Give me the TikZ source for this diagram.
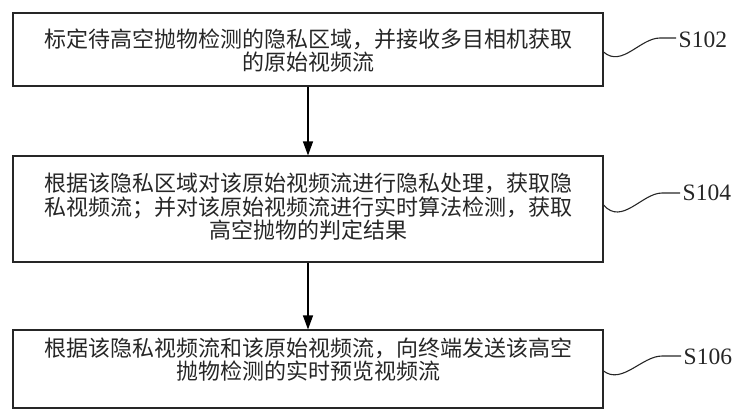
\documentclass[tikz,border=0pt]{standalone}
\usepackage{fontspec}
\setmainfont{Liberation Serif}
\newfontfamily\cjk{Noto Sans CJK SC}
\usetikzlibrary{arrows.meta,calc}
\begin{document}
\begin{tikzpicture}[x=1pt,y=-1pt,
  box/.style={draw=black!85, line width=1.1pt, minimum width=590pt, inner sep=0pt},
  txt/.style={font=\cjk\fontsize{22}{23.5}\selectfont, align=center, inner sep=0pt, text=black!85},
  arr/.style={draw=black, -{Triangle[width=10pt,length=14pt]}, line width=1.1pt},
  lead/.style={draw=black!85, line width=1.1pt},
  lab/.style={font=\fontsize{23.5}{26}\selectfont, anchor=west, inner sep=2.5pt, text=black!85}]
\useasboundingbox (0,0) rectangle (746,416);

\node[box, minimum height=73pt] (b1) at (308,49.5) {};
\node[box, minimum height=106pt] (b2) at (308,209) {};
\node[box, minimum height=78pt] (b3) at (308,369) {};

\node[txt] (t1) at (308,50.5) {标定待高空抛物检测的隐私区域，并接收多目相机获取\\的原始视频流};
\node[txt] (t2) at (308,207) {根据该隐私区域对该原始视频流进行隐私处理，获取隐\\私视频流；并对该原始视频流进行实时算法检测，获取\\高空抛物的判定结果};
\node[txt] (t3) at (308,359.5) {根据该隐私视频流和该原始视频流，向终端发送该高空\\抛物检测的实时预览视频流};

\draw[arr] (b1.south) -- (b2.north);
\draw[arr] (b2.south) -- (b3.north);

\node[lab] (s1) at (676,40) {S102};
\node[lab] (s2) at (680,193) {S104};
\node[lab] (s3) at (681,357) {S106};

\draw[lead] ([yshift=-2.5pt]b1.east) .. controls (622,68) and (640,38) .. (660,38) -- (s1.west |- 0,38);
\draw[lead] ([yshift=4pt]b2.east) .. controls (622,226) and (642,193) .. (662,193) -- (s2.west);
\draw[lead] ([yshift=-2pt]b3.east) .. controls (622,385) and (642,356) .. (662,356) -- (s3.west |- 0,356);
\end{tikzpicture}
\end{document}
